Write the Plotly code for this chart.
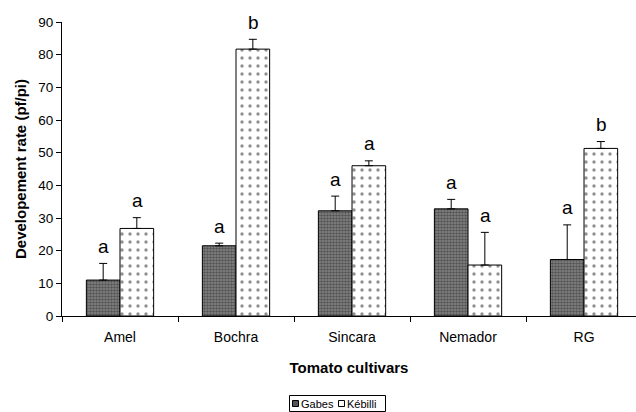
import plotly.graph_objects as go

cultivars = ["Amel", "Bochra", "Sincara", "Nemador", "RG"]
gabes = [11.0, 21.5, 32.2, 32.8, 17.3]
gabes_err = [5.1, 0.8, 4.5, 2.9, 10.6]
kebilli = [26.8, 81.7, 46.0, 15.6, 51.3]
kebilli_err = [3.3, 3.0, 1.5, 10.0, 2.1]
gabes_letters = ["a", "a", "a", "a", "a"]
kebilli_letters = ["a", "b", "a", "a", "b"]
y_ticks = [0, 10, 20, 30, 40, 50, 60, 70, 80, 90]
series_names = ["Gabes", "Kébilli"]

FONT = "Arial, Liberation Sans, sans-serif"
W, H = 636, 412
L, R, T, B = 62, 0, 22, 96
PW, PH = W - L - R, H - T - B


def px(x):
    return (x - L) / PW


def py(y):
    return (H - B - y) / PH


fig = go.Figure()
fig.add_trace(go.Bar(
    name=series_names[0], x=cultivars, y=gabes,
    error_y=dict(type="data", symmetric=False, array=gabes_err,
                 arrayminus=[0] * len(gabes), color="black", thickness=1, width=4),
    marker=dict(color="#6e6e6e", line=dict(color="black", width=1),
                pattern=dict(shape=".", fgcolor="#222222", bgcolor="#888888",
                             size=3, solidity=0.6)),
))
fig.add_trace(go.Bar(
    name=series_names[1], x=cultivars, y=kebilli,
    error_y=dict(type="data", symmetric=False, array=kebilli_err,
                 arrayminus=[0] * len(kebilli), color="black", thickness=1, width=4),
    marker=dict(color="white", line=dict(color="black", width=1),
                pattern=dict(shape=".", fgcolor="#222222", bgcolor="white",
                             size=8, solidity=0.14)),
))

annotations = []
for i, c in enumerate(cultivars):
    annotations.append(dict(x=c, y=gabes[i] + gabes_err[i], text=gabes_letters[i],
                            xshift=-17, yshift=17, yanchor="middle", showarrow=False,
                            font=dict(size=19, family=FONT, color="black")))
    annotations.append(dict(x=c, y=kebilli[i] + kebilli_err[i], text=kebilli_letters[i],
                            xshift=17, yshift=17, yanchor="middle", showarrow=False,
                            font=dict(size=19, family=FONT, color="black")))

# compact Excel-style legend
shapes = [
    dict(type="rect", xref="paper", yref="paper", x0=px(289.5), x1=px(385.5),
         y0=py(411.5), y1=py(395.5), line=dict(color="black", width=1), fillcolor="white"),
    dict(type="rect", xref="paper", yref="paper", x0=px(292.5), x1=px(298.5),
         y0=py(406.5), y1=py(400.5), line=dict(color="black", width=1), fillcolor="#555555"),
    dict(type="rect", xref="paper", yref="paper", x0=px(338.5), x1=px(344.5),
         y0=py(406.5), y1=py(400.5), line=dict(color="black", width=1), fillcolor="white"),
]
annotations.append(dict(xref="paper", yref="paper", x=px(299), y=py(403.5), text=series_names[0],
                        xanchor="left", yanchor="middle", showarrow=False,
                        font=dict(size=11, family=FONT, color="black")))
annotations.append(dict(xref="paper", yref="paper", x=px(345), y=py(403.5), text=series_names[1],
                        xanchor="left", yanchor="middle", showarrow=False,
                        font=dict(size=11, family=FONT, color="black")))

fig.update_layout(
    width=W, height=H,
    margin=dict(l=L, r=R, t=T, b=B, autoexpand=False),
    paper_bgcolor="white", plot_bgcolor="white",
    font=dict(family=FONT, color="black"),
    barmode="group", bargap=0.42, bargroupgap=0,
    annotations=annotations, shapes=shapes,
    showlegend=False,
)
fig.update_xaxes(
    range=[-0.5, 4.448], showline=True, linecolor="black", linewidth=1,
    ticks="outside", tickson="boundaries", ticklen=5, tickcolor="black",
    tickfont=dict(size=14), ticklabelstandoff=8, automargin=False,
    title=dict(text="<b>Tomato cultivars</b>", font=dict(size=15), standoff=18),
    showgrid=False, zeroline=False,
)
fig.update_yaxes(
    range=[0, 90], tickvals=y_ticks, showline=True, linecolor="black", linewidth=1,
    ticks="outside", ticklen=5, tickcolor="black", tickfont=dict(size=13.5), automargin=False,
    title=dict(text="<b>Developement rate (pf/pi)</b>", font=dict(size=15), standoff=8),
    showgrid=False, zeroline=False,
)

fig.write_html("out.html", config={"displayModeBar": False},
               post_script="document.body.style.margin='0';document.body.style.overflow='hidden';")
